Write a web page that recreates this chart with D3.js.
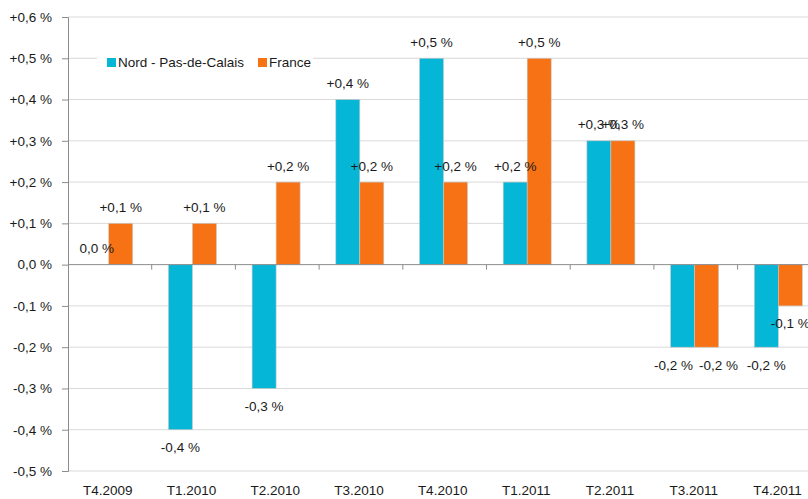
<!DOCTYPE html>
<html>
<head>
<meta charset="utf-8">
<script src="https://cdn.jsdelivr.net/npm/d3@7"></script>
<style>
  body { margin: 0; background: #fff; }
  text { font-family: "Liberation Sans", Arial, sans-serif; fill: #1a1a1a; }
</style>
</head>
<body>
<div id="chart"></div>
<script>
// data
var quarters = ["T4.2009", "T1.2010", "T2.2010", "T3.2010", "T4.2010", "T1.2011", "T2.2011", "T3.2011", "T4.2011"];
var seriesNames = ["Nord - Pas-de-Calais", "France"];
var nordValues = [0.0, -0.4, -0.3, 0.4, 0.5, 0.2, 0.3, -0.2, -0.2];
var franceValues = [0.1, 0.1, 0.2, 0.2, 0.2, 0.5, 0.3, -0.2, -0.1];
var yTicks = [0.6, 0.5, 0.4, 0.3, 0.2, 0.1, 0, -0.1, -0.2, -0.3, -0.4, -0.5];

var colors = { "Nord - Pas-de-Calais": "#05b6d7", "France": "#f77214" };

var width = 808, height = 499;
var left = 68, bandW = 83.7;

// labels that were pulled apart by hand in the original (T3.2011)
var labelNudge = { "T3.2011|Nord - Pas-de-Calais": -9, "T3.2011|France": 12 };

var svg = d3.select("#chart").append("svg")
    .attr("width", width)
    .attr("height", height);

var y = d3.scaleLinear().domain([-0.5, 0.6]).range([471, 17]);

// the plot goes past the right edge of the picture (cropped)
var x0 = d3.scaleBand().domain(quarters).range([left, left + bandW * quarters.length]);
var x1 = d3.scaleBand().domain(seriesNames).range([16.7, 64.7]);

function fmt(v) {
    var r = Math.round(v * 10) / 10;
    if (r === 0) return "0,0 %";
    return (r > 0 ? "+" : "-") + Math.abs(r).toFixed(1).replace(".", ",") + " %";
}

// gridlines
svg.selectAll(".grid")
    .data(yTicks.filter(function(d){ return d !== 0; }))
    .enter().append("line")
    .attr("class", "grid")
    .attr("x1", left).attr("x2", width)
    .attr("y1", function(d){ return y(d); })
    .attr("y2", function(d){ return y(d); })
    .attr("stroke", "#d9d9d9")
    .attr("stroke-width", 1);

// y axis
var yAxis = d3.axisLeft(y).tickValues(yTicks).tickSize(6).tickPadding(10).tickFormat(fmt);
var gy = svg.append("g").attr("transform", "translate(" + left + ",0)").call(yAxis);
gy.select(".domain").attr("stroke", "#8c8c8c");
gy.selectAll(".tick line").attr("stroke", "#8c8c8c");
gy.selectAll(".tick text").style("font-size", "13.5px").attr("fill", "#1a1a1a");

// bars
var rows = quarters.map(function(q, i){
    return { q: q, vals: [
        { q: q, name: seriesNames[0], v: nordValues[i] },
        { q: q, name: seriesNames[1], v: franceValues[i] }
    ]};
});

var groups = svg.selectAll(".grp")
    .data(rows)
    .enter().append("g")
    .attr("class", "grp")
    .attr("transform", function(d){ return "translate(" + x0(d.q) + ",0)"; });

groups.selectAll("rect")
    .data(function(d){ return d.vals; })
    .enter().append("rect")
    .attr("x", function(d){ return x1(d.name); })
    .attr("width", x1.bandwidth())
    .attr("y", function(d){ return y(Math.max(0, d.v)); })
    .attr("height", function(d){ return Math.abs(y(d.v) - y(0)); })
    .attr("fill", function(d){ return colors[d.name]; })
    .attr("stroke", "#c8c8c8")
    .attr("stroke-width", 0.6);

groups.selectAll(".lbl")
    .data(function(d){ return d.vals; })
    .enter().append("text")
    .attr("class", "lbl")
    .attr("x", function(d){
        return x1(d.name) + x1.bandwidth() / 2 + (labelNudge[d.q + "|" + d.name] || 0);
    })
    .attr("y", function(d){ return d.v < 0 ? y(d.v) + 22.5 : y(d.v) - 11.5; })
    .attr("text-anchor", "middle")
    .style("font-size", "13.5px")
    .text(function(d){ return fmt(d.v); });

// zero line with category ticks
svg.append("line")
    .attr("x1", left).attr("x2", width)
    .attr("y1", y(0)).attr("y2", y(0))
    .attr("stroke", "#8c8c8c");

svg.selectAll(".xtick")
    .data(quarters.slice(1))
    .enter().append("line")
    .attr("class", "xtick")
    .attr("x1", function(d){ return x0(d); })
    .attr("x2", function(d){ return x0(d); })
    .attr("y1", y(0)).attr("y2", y(0) + 5)
    .attr("stroke", "#8c8c8c");

// category labels at the bottom
svg.selectAll(".xlbl")
    .data(quarters)
    .enter().append("text")
    .attr("class", "xlbl")
    .attr("x", function(d){ return x0(d) + bandW / 2 - 2; })
    .attr("y", 495)
    .attr("text-anchor", "middle")
    .style("font-size", "13.5px")
    .text(function(d){ return d; });

// legend
var legend = svg.append("g");
legend.append("rect")
    .attr("x", 97).attr("y", 48).attr("width", 216).attr("height", 22)
    .attr("fill", "#fff");
var legX = [107, 258];
seriesNames.forEach(function(name, i){
    legend.append("rect")
        .attr("x", legX[i]).attr("y", 58)
        .attr("width", 9).attr("height", 9)
        .attr("fill", colors[name]);
    legend.append("text")
        .attr("x", legX[i] + 11).attr("y", 67)
        .style("font-size", "13.5px")
        .text(name);
});
</script>
</body>
</html>
